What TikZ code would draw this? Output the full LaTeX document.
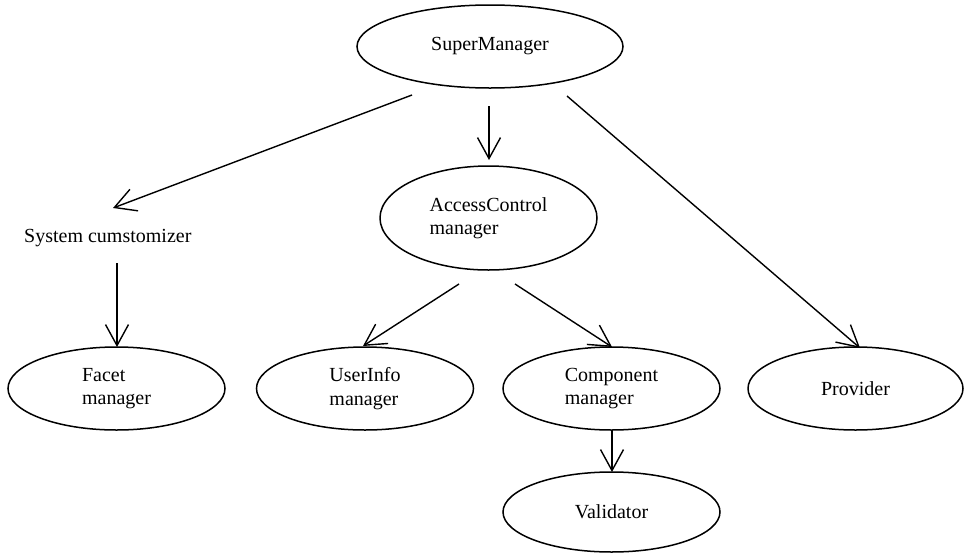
\documentclass[tikz,border=0pt]{standalone}
\usepackage{fontspec}
\setmainfont{Liberation Serif}
\usetikzlibrary{arrows.meta,shapes.geometric}
\begin{document}
\begin{tikzpicture}[x=1pt,y=-1pt,
  oval/.style={draw,ellipse,line width=1.5pt,inner sep=0pt,minimum width=217pt,minimum height=83pt,align=left,font=\fontsize{20}{23.5}\selectfont},
  lbl/.style={inner sep=0pt,font=\fontsize{20}{23.5}\selectfont},
  arr/.style={line width=1.4pt,-{Straight Barb[length=21pt,width=23pt,line width=1.4pt]}}]
\useasboundingbox (0,0) rectangle (964,555);
\node[oval,minimum width=266pt] (super) at (490,46.5) {SuperManager};
\node[oval,minimum height=104pt] (acc) at (488.5,218) {AccessControl\\manager};
\node[lbl,anchor=base west] (sys) at (24,242) {System cumstomizer};
\node[oval] (facet) at (116.5,388.5) {Facet\\manager};
\node[oval] (user) at (365,388.5) {UserInfo\\manager};
\node[oval] (comp) at (611.5,388.5) {Component\\manager};
\node[oval,minimum width=215pt] (prov) at (855.5,388.5) {Provider};
\node[oval,minimum height=80pt] (valid) at (611.5,512) {Validator};
% connector end points
\coordinate (a1) at (412,95);  \coordinate (b1) at (113,208);
\coordinate (a2) at (489,106); \coordinate (b2) at (489,160);
\coordinate (a3) at (567,96);  \coordinate (b3) at (860,348);
\coordinate (a4) at (117,263); \coordinate (b4) at (117,347);
\coordinate (a5) at (459,284); \coordinate (b5) at (363,346);
\coordinate (a6) at (515,284); \coordinate (b6) at (612,347);
\coordinate (a7) at (612,430); \coordinate (b7) at (612,472);
\draw[arr] (a1) -- (b1);
\draw[arr] (a2) -- (b2);
\draw[arr] (a3) -- (b3);
\draw[arr] (a4) -- (b4);
\draw[arr] (a5) -- (b5);
\draw[arr] (a6) -- (b6);
\draw[arr] (a7) -- (b7);
\end{tikzpicture}
\end{document}
